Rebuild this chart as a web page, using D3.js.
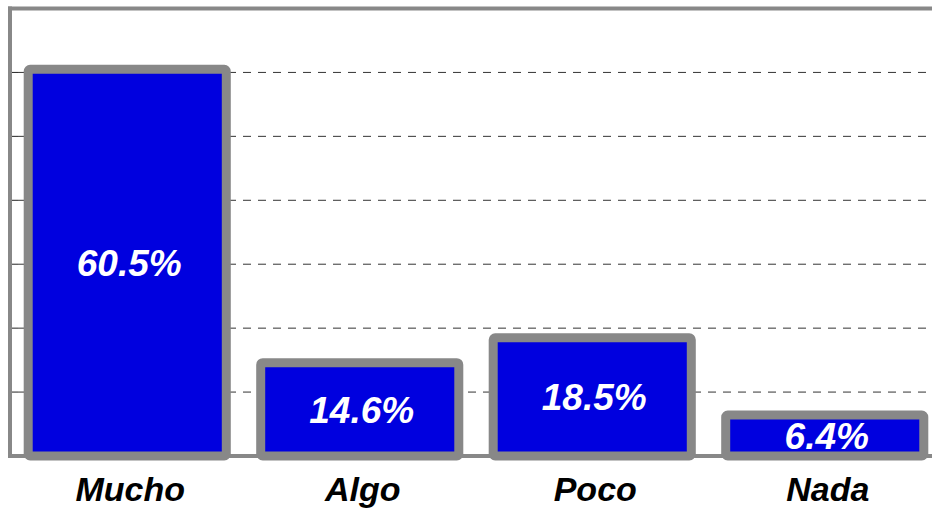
<!DOCTYPE html>
<html>
<head>
<meta charset="utf-8">
<script src="https://cdn.jsdelivr.net/npm/d3@7"></script>
<style>
  body { margin: 0; background: #fff; }
  svg { display: block; font-family: "Liberation Sans", Arial, sans-serif; }
</style>
</head>
<body>
<div id="chart"></div>
<script>
// data
var categories = ['Mucho', 'Algo', 'Poco', 'Nada'];
var values = [60.5, 14.6, 18.5, 6.4];
var valueLabels = ['60.5%', '14.6%', '18.5%', '6.4%'];
var gridTicks = [10, 20, 30, 40, 50, 60];

var W = 932, H = 508;
var m = {t: 8.5, r: -9, b: 52, l: 11};
var w = W - m.l - m.r, h = H - m.t - m.b;

var svg = d3.select('#chart').append('svg')
	.attr('width', W).attr('height', H);
var plot = svg.append('g').attr('transform', 'translate(' + m.l + ',' + m.t + ')');

var scaleX = d3.scaleBand().domain(categories).range([0, w])
	.paddingInner(0.148).paddingOuter(0.074);
var scaleY = d3.scaleLinear().domain([0, 70]).range([h, 0]);

// dashed gridlines
plot.selectAll('.grid').data(gridTicks).enter()
	.append('line').attr('class', 'grid')
	.attr('x1', 7).attr('x2', w)
	.attr('y1', function(d){ return scaleY(d); })
	.attr('y2', function(d){ return scaleY(d); })
	.attr('stroke', '#333').attr('stroke-width', 1)
	.attr('stroke-dasharray', '8,7');

// small ticks on the left axis
plot.selectAll('.tick-y').data(gridTicks).enter()
	.append('line').attr('class', 'tick-y')
	.attr('x1', 1).attr('x2', 7)
	.attr('y1', function(d){ return scaleY(d); })
	.attr('y2', function(d){ return scaleY(d); })
	.attr('stroke', '#222').attr('stroke-width', 1);

// frame: top border, left axis, baseline
plot.append('line').attr('x1', -3).attr('x2', w).attr('y1', 0).attr('y2', 0)
	.attr('stroke', '#888').attr('stroke-width', 4);
plot.append('line').attr('x1', -1).attr('x2', -1).attr('y1', -2).attr('y2', h + 2)
	.attr('stroke', '#888').attr('stroke-width', 4);
plot.append('line').attr('x1', -3).attr('x2', w).attr('y1', h).attr('y2', h)
	.attr('stroke', '#888').attr('stroke-width', 4);

var data = categories.map(function(c, i){ return {cat: c, v: values[i], label: valueLabels[i]}; });

// bars
plot.selectAll('.bar').data(data).enter()
	.append('rect').attr('class', 'bar')
	.attr('x', function(d){ return scaleX(d.cat); })
	.attr('width', scaleX.bandwidth())
	.attr('y', function(d){ return scaleY(d.v); })
	.attr('height', function(d){ return h - scaleY(d.v); })
	.attr('rx', 2)
	.attr('fill', '#0000DF')
	.attr('stroke', '#888').attr('stroke-width', 9)
	.attr('stroke-linejoin', 'round');

// value labels inside bars
plot.selectAll('.val').data(data).enter()
	.append('text').attr('class', 'val')
	.attr('x', function(d){ return scaleX(d.cat) + scaleX.bandwidth()/2 + 2; })
	.attr('y', function(d){ return (scaleY(d.v) + h)/2; })
	.attr('dy', '0.36em')
	.attr('text-anchor', 'middle')
	.attr('fill', '#fff')
	.style('font-size', '37px').style('font-weight', 'bold').style('font-style', 'italic')
	.text(function(d){ return d.label; });

// category labels
plot.selectAll('.cat').data(data).enter()
	.append('text').attr('class', 'cat')
	.attr('x', function(d){ return scaleX(d.cat) + scaleX.bandwidth()/2 + 3; })
	.attr('y', h + 45)
	.attr('text-anchor', 'middle')
	.attr('fill', '#000')
	.style('font-size', '34px').style('font-weight', 'bold').style('font-style', 'italic')
	.text(function(d){ return d.cat; });
</script>
</body>
</html>
